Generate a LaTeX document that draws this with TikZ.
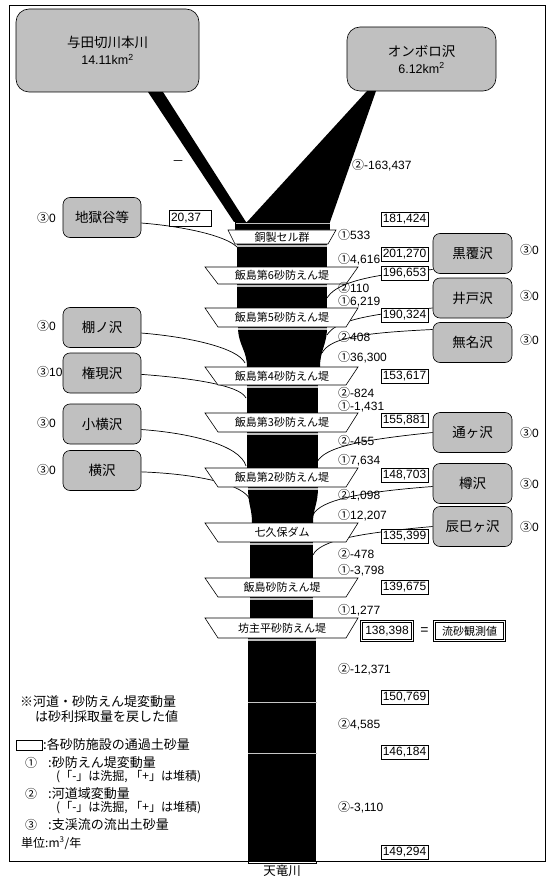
\documentclass[tikz,border=0pt]{standalone}
\usepackage{fontspec}
\setmainfont{Liberation Sans}
\newfontfamily\jp{Noto Sans CJK JP}
\definecolor{boxgray}{HTML}{C0C0C0}
\newcommand\maruA{{\jp ①}}
\newcommand\maruB{{\jp ②}}
\newcommand\maruC{{\jp ③}}
\begin{document}
\begin{tikzpicture}[x=1pt,y=-1pt,
  src/.style={draw=black, line width=0.6pt, fill=boxgray, rounded corners=13pt, inner sep=0pt, align=center, font=\jp\fontsize{13.5}{17}\selectfont},
  trib/.style={draw=black, line width=0.6pt, fill=boxgray, rounded corners=7pt, minimum width=78pt, minimum height=40pt, inner sep=0pt, font=\jp\fontsize{13.5}{15}\selectfont},
  valbox/.style={draw=black, fill=white, line width=0.6pt, minimum width=47pt, minimum height=14pt, inner sep=0pt, font=\fontsize{12}{14}\selectfont},
  lab/.style={anchor=west, inner sep=0pt, font=\fontsize{12}{14}\selectfont},
  damshape/.style={draw=black, fill=white, line width=0.6pt},
  damlab/.style={inner sep=0pt, font=\jp\fontsize{11}{13}\selectfont},
  conn/.style={draw=black, line width=0.7pt},
  riv/.style={fill=black},
  gbar/.style={draw=gray!50, line width=1.4pt},
  leg/.style={anchor=west, inner sep=0pt, font=\jp\fontsize{13}{15}\selectfont},
  ctr/.style={anchor=west, inner sep=0pt, font=\fontsize{12}{14}\selectfont}]
\useasboundingbox (0,0) rectangle (547,877);
% frame
\draw[line width=0.8pt] (9,5) rectangle (545,861);

% source and tributary boxes
\node[src, minimum width=183pt, minimum height=83pt] (yota) at (107.5,50.5) {与田切川本川\\{\rmfamily\fontsize{12.5}{15}\selectfont 14.11km\textsuperscript{2}}};
\node[src, minimum width=149pt, minimum height=64pt] (onbo) at (421.5,59) {オンボロ沢\\{\rmfamily\fontsize{12.5}{15}\selectfont 6.12km\textsuperscript{2}}};

\node[trib] (jigoku) at (102,217.5) {地獄谷等};
\node[trib] (tana) at (102,327.5) {棚ノ沢};
\node[trib] (gongen) at (102,373) {権現沢};
\node[trib] (koyoko) at (102,424) {小横沢};
\node[trib] (yoko) at (102,470.5) {横沢};
\node[trib, minimum width=79pt] (kuro) at (472.5,253.5) {黒覆沢};
\node[trib, minimum width=79pt] (ido) at (472.5,298) {井戸沢};
\node[trib, minimum width=79pt] (mumei) at (472.5,342.5) {無名沢};
\node[trib, minimum width=79pt] (tsuga) at (472.5,432.5) {通ヶ沢};
\node[trib, minimum width=79pt] (taru) at (472.5,483.5) {樽沢};
\node[trib, minimum width=79pt] (tatsu) at (472.5,526.5) {辰巳ヶ沢};

% junction coordinates on the channel
\coordinate (jJ) at (237,247);
\coordinate (jT) at (245,363);
\coordinate (jG) at (246,398);
\coordinate (jK) at (246,466);
\coordinate (jY) at (250,500);
\coordinate (jKu) at (327,298);
\coordinate (jI) at (327,335);
\coordinate (jM) at (322,353);
\coordinate (jTs) at (317,462);
\coordinate (jTa) at (313,515);
\coordinate (jTt) at (313,555);

% connectors (under everything else)
\draw[conn] (jigoku.-8) .. controls (180,226) and (225,235) .. (jJ);
\draw[conn] (tana.-8) .. controls (190,337) and (238,348) .. (jT);
\draw[conn] (gongen.-2) .. controls (190,378) and (240,385) .. (jG);
\draw[conn] (koyoko.-8) .. controls (190,433) and (240,445) .. (jK);
\draw[conn] (yoko.-2) .. controls (200,474) and (245,485) .. (jY);
\draw[conn] (jKu) .. controls (335,285) and (360,275) .. ([yshift=-16pt]kuro.west);
\draw[conn] (jI) .. controls (335,322) and (360,315) .. ([yshift=-10pt]ido.west);
\draw[conn] (jM) .. controls (330,338) and (360,333) .. ([yshift=13pt]mumei.west);
\draw[conn] (jTs) .. controls (325,447) and (360,440) .. (tsuga.west);
\draw[conn] (jTa) .. controls (320,500) and (360,492) .. ([yshift=-3pt]taru.west);
\draw[conn] (jTt) .. controls (320,540) and (360,533) .. (tatsu.west);

% river shapes
\fill[riv] (148,92) -- (163,92) -- (246,222) -- (234,222) -- cycle;
\fill[riv] (367,91) -- (376,91) -- (330,222) -- (247,222) -- cycle;
\fill[riv] (235,222) rectangle (330,230);
\fill[riv] (237,244) rectangle (327,267);
\fill[riv] (237,284) rectangle (327,308);
\fill[riv] (238,327) -- (327,327) .. controls (327,345) and (320,350) .. (320,367) -- (247,367) .. controls (247,350) and (238,345) .. (238,327) -- cycle;
\fill[riv] (247,385) rectangle (318,413);
\fill[riv] (247,432) rectangle (318,468);
\fill[riv] (248,487) -- (318,487) .. controls (318,505) and (313,508) .. (313,523) -- (252,523) .. controls (252,508) and (248,505) .. (248,487) -- cycle;
\fill[riv] (250,542) rectangle (313,578);
\fill[riv] (250,597) rectangle (313,618);
\fill[riv] (248,638) rectangle (316,861);
\draw[line width=0.5pt, fill=white] (248,861) rectangle (316,863.5);

% dams
\draw[damshape] (228,230) -- (336,230) -- (328,244) -- (235,244) -- cycle;
\node[damlab] (d0) at (282,237.5) {銅製セル群};
\foreach \yt/\yb/\nm/\txt in {267/284/d6/飯島第6砂防えん堤, 308/327/d5/飯島第5砂防えん堤, 367/385/d4/飯島第4砂防えん堤, 413/432/d3/飯島第3砂防えん堤, 468/487/d2/飯島第2砂防えん堤, 523/542/dn/七久保ダム, 578/597/di/飯島砂防えん堤, 618/638/db/坊主平砂防えん堤}{
  \draw[damshape] (205,\yt) -- (358,\yt) -- (346,\yb) -- (218,\yb) -- cycle;
  \node[damlab] (\nm) at (282,{(\yt+\yb)/2}) {\txt};
}

% gray edge bars at channel tops
\draw[gbar] (236,223.5) -- (330,223.5);
\draw[gbar] (237,246) -- (327,246);
\draw[gbar] (237,286) -- (327,286);
\draw[gbar] (238,329) -- (327,329);
\draw[gbar] (247,387) -- (318,387);
\draw[gbar] (247,434) -- (318,434);
\draw[gbar] (248,489) -- (318,489);
\draw[gbar] (250,544) -- (313,544);
\draw[gbar] (250,599) -- (313,599);
\draw[gbar] (248,640) -- (316,640);
\draw[draw=gray!45, line width=1pt] (248,702) -- (316.5,702);
\draw[draw=gray!45, line width=1pt] (248,753) -- (316.5,753);

% value boxes
\node[valbox, minimum width=42pt, minimum height=16pt, text width=38pt, align=left] (v0) at (190,218) {20,37};
\node[valbox] (v1) at (404.5,219) {181,424};
\node[valbox] (v2) at (404.5,254.5) {201,270};
\node[valbox] (v3) at (404.5,273.5) {196,653};
\node[valbox] (v4) at (404.5,315) {190,324};
\node[valbox] (v5) at (404.5,376.5) {153,617};
\node[valbox] (v6) at (404.5,420) {155,881};
\node[valbox] (v7) at (404.5,475) {148,703};
\node[valbox] (v8) at (404.5,536.5) {135,399};
\node[valbox] (v9) at (404.5,587) {139,675};
\node[valbox, double, double distance=1.5pt, minimum width=51pt, minimum height=19pt] (v10) at (387,631) {138,398};
\node[inner sep=0pt, font=\fontsize{14}{14}\selectfont] (eq) at (424.5,631) {=};
\node[valbox, double, double distance=1.5pt, minimum width=70pt, minimum height=19pt, font=\jp\fontsize{11}{13}\selectfont] (obsv) at (469.5,631) {流砂観測値};
\node[valbox] (v11) at (404.5,697.5) {150,769};
\node[valbox] (v12) at (404.5,752) {146,184};
\node[valbox] (v13) at (404.5,852) {149,294};

% change labels
\node[ctr] (c0) at (352,165) {\maruB-163,437};
\node[inner sep=0pt, font=\jp\fontsize{12}{12}\selectfont] (dash) at (178,163) {－};
\node[ctr] (c1) at (338,235) {\maruA533};
\node[ctr] (c2) at (338,259) {\maruA4,616};
\node[ctr] (c3) at (338,288) {\maruB110};
\node[ctr] (c4) at (338,301) {\maruA6,219};
\node[ctr] (c5) at (338,337) {\maruB408};
\node[ctr] (c6) at (338,357) {\maruA36,300};
\node[ctr] (c7) at (338,393) {\maruB-824};
\node[ctr] (c8) at (338,406) {\maruA-1,431};
\node[ctr] (c9) at (338,441) {\maruB-455};
\node[ctr] (c10) at (338,460) {\maruA7,634};
\node[ctr] (c11) at (338,495) {\maruB1,098};
\node[ctr] (c12) at (338,515) {\maruA12,207};
\node[ctr] (c13) at (338,554) {\maruB-478};
\node[ctr] (c14) at (338,570) {\maruA-3,798};
\node[ctr] (c15) at (338,610) {\maruA1,277};
\node[ctr] (c16) at (338,669) {\maruB-12,371};
\node[ctr] (c17) at (338,724) {\maruB4,585};
\node[ctr] (c18) at (338,807) {\maruB-3,110};

% tributary outflow labels
\node[ctr] (t1) at (37,217.5) {\maruC0};
\node[ctr] (t2) at (37,326) {\maruC0};
\node[ctr] (t3) at (37,372) {\maruC10};
\node[ctr] (t4) at (37,423) {\maruC0};
\node[ctr] (t5) at (37,470) {\maruC0};
\node[ctr] (t6) at (520,250) {\maruC0};
\node[ctr] (t7) at (520,296) {\maruC0};
\node[ctr] (t8) at (520,340) {\maruC0};
\node[ctr] (t9) at (520,433) {\maruC0};
\node[ctr] (t10) at (520,484) {\maruC0};
\node[ctr] (t11) at (520,527) {\maruC0};

% legend
\node[leg] (n1) at (20,702) {※河道・砂防えん堤変動量};
\node[leg] (n2) at (35,717) {は砂利採取量を戻した値};
\draw[line width=0.6pt] (16,740) rectangle (42,750);
\node[leg] (l0) at (43,745) {:各砂防施設の通過土砂量};
\node[leg, font=\jp\fontsize{12}{14}\selectfont] (l1a) at (25,763) {①};
\node[leg] (l1) at (48,763) {:砂防えん堤変動量};
\node[leg, font=\jp\fontsize{12}{14}\selectfont] (l1b) at (56,777) {(「-」は洗掘, 「+」は堆積)};
\node[leg, font=\jp\fontsize{12}{14}\selectfont] (l2a) at (25,794) {②};
\node[leg] (l2) at (48,794) {:河道域変動量};
\node[leg, font=\jp\fontsize{12}{14}\selectfont] (l2b) at (56,808) {(「-」は洗掘, 「+」は堆積)};
\node[leg, font=\jp\fontsize{12}{14}\selectfont] (l3a) at (25,825) {③};
\node[leg] (l3) at (48,825) {:支渓流の流出土砂量};
\node[leg, font=\jp\fontsize{12}{14}\selectfont] (unit) at (21,843) {単位:m\textsuperscript{3}/年};

\node[inner sep=0pt, font=\jp\fontsize{12.5}{14}\selectfont] (tenryu) at (282,870.5) {天竜川};
\end{tikzpicture}
\end{document}
